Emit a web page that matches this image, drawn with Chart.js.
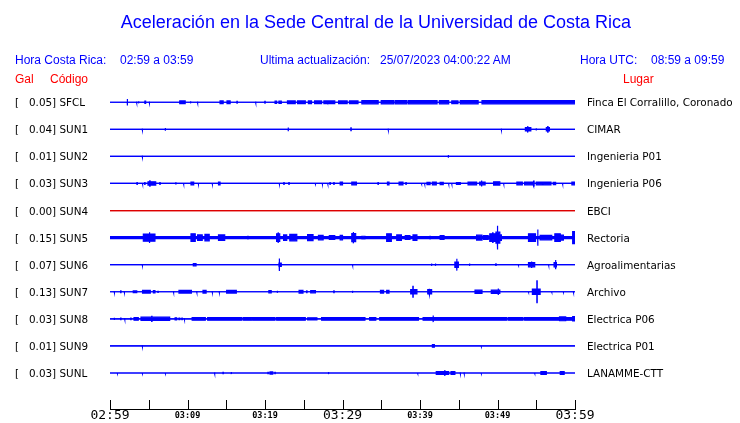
<!DOCTYPE html>
<html>
<head>
<meta charset="utf-8">
<script src="https://cdn.jsdelivr.net/npm/chart.js@4.4.1/dist/chart.umd.min.js"></script>
<style>
  body { margin: 0; background: #fff; }
  #wrap { position: relative; width: 740px; height: 423px; overflow: hidden; font-family: "Liberation Sans", Arial, sans-serif; }
  #c { position: absolute; left: 0; top: 0; }
  .t { position: absolute; white-space: pre; line-height: 14px; }
  .blue { color: #0000ff; font-size: 12px; top: 53px; }
  .red { color: #ff0000; font-size: 12px; top: 72px; }
  .sta { font-family: "DejaVu Sans", sans-serif; font-size: 10.4px; color: #000; line-height: 13px; }
</style>
</head>
<body>
<div id="wrap">
  <canvas id="c" width="740" height="423"></canvas>
  <div class="t" style="left:0;width:752px;text-align:center;top:11px;font-size:18px;line-height:22px;color:#0000ff;">Aceleración en la Sede Central de la Universidad de Costa Rica</div>
  <div class="t blue" style="left:15px;">Hora Costa Rica:</div>
  <div class="t blue" style="left:120px;">02:59 a 03:59</div>
  <div class="t blue" style="left:260px;">Ultima actualización:</div>
  <div class="t blue" style="left:380px;">25/07/2023 04:00:22 AM</div>
  <div class="t blue" style="left:580px;">Hora UTC:</div>
  <div class="t blue" style="left:651px;">08:59 a 09:59</div>
  <div class="t red" style="left:15px;">Gal</div>
  <div class="t red" style="left:50px;">Código</div>
  <div class="t red" style="left:623px;">Lugar</div>
</div>
<script>
/* ---------- DATOS ---------- */
const codes = ["SFCL", "SUN1", "SUN2", "SUN3", "SUN4", "SUN5", "SUN6", "SUN7", "SUN8", "SUN9", "SUNL"];
const gal = [0.05, 0.04, 0.01, 0.03, 0.00, 0.15, 0.07, 0.13, 0.03, 0.01, 0.03];
const places = ["Finca El Corralillo, Coronado", "CIMAR", "Ingenieria P01", "Ingenieria P06", "EBCI",
  "Rectoria", "Agroalimentarias", "Archivo", "Electrica P06", "Electrica P01", "LANAMME-CTT"];

// minutos desde 02:59
const tickMinutes = [0, 10, 20, 30, 40, 50, 60];
const tickTexts = ["02:59", "03:09", "03:19", "03:29", "03:39", "03:49", "03:59"];
const majorTicks = ["02:59", "03:29", "03:59"];

// trazas: [inicio, fin, semiamplitud] o [minuto, semiamplitud] para un pico
const SFCL = [[2.24, 0.12], [3.44, 0.03], [3.7, 0.04], [4.5, 4.6, 0.04], [5.08, 0.03], [9.0, 9.7, 0.05], [10.4, 0.04],
  [11.3, 0.03], [14.2, 14.6, 0.05], [15.1, 15.5, 0.05], [16.4, 0.03], [18.8, 0.03], [20.0, 0.03], [21.3, 21.5, 0.04],
  [21.8, 22.1, 0.04], [22.9, 23.9, 0.05], [24.2, 25.2, 0.05], [25.6, 26.0, 0.05], [26.4, 27.3, 0.05], [27.6, 28.0, 0.05],
  [28.1, 29.0, 0.05], [29.5, 30.0, 0.05], [30.1, 30.6, 0.05], [30.9, 32.0, 0.05], [32.5, 34.6, 0.06], [35.0, 36.6, 0.06],
  [36.8, 38.3, 0.06], [38.5, 42.2, 0.06], [42.5, 43.7, 0.06], [44.1, 44.9, 0.05], [45.2, 47.5, 0.06], [48.0, 60, 0.06]];
const SUN1 = [[4.17, 0.03], [7.14, 0.05], [23.0, 0.07], [31.1, 0.05], [35.9, 0.03], [50.5, 0.03], [53.6, 54.3, 0.06],
  [53.9, 0.12], [55.0, 0.04], [56.3, 56.7, 0.06], [56.5, 0.1]];
const SUN2 = [[4.17, 0.03], [43.66, 0.05]];
const SUN3 = [[3.5, 0.03], [4.2, 0.03], [4.5, 0.03], [4.9, 5.9, 0.06], [5.15, 0.1], [6.45, 0.03], [8.5, 0.02], [9.5, 0.03],
  [10.45, 10.8, 0.05], [11.4, 0.03], [13.2, 0.03], [14.0, 14.2, 0.05], [21.85, 0.03], [22.45, 0.03], [23.1, 0.03],
  [26.5, 0.02], [27.4, 0.03], [28.1, 0.03], [28.4, 0.03], [28.9, 0.03], [29.7, 30.0, 0.05], [31.2, 31.8, 0.05],
  [34.6, 0.03], [35.8, 36.0, 0.05], [37.3, 37.8, 0.05], [38.2, 0.03], [40.2, 0.02], [40.6, 0.03], [40.9, 41.3, 0.04],
  [41.6, 42.1, 0.05], [42.6, 43.0, 0.04], [43.7, 0.03], [44.1, 0.03], [44.7, 45.2, 0.03], [46.2, 47.3, 0.05],
  [47.7, 48.4, 0.05], [47.95, 0.11], [49.5, 50.3, 0.06], [50.8, 0.03], [52.5, 53.2, 0.05], [53.5, 54.6, 0.05],
  [54.7, 0.09], [55.0, 55.8, 0.05], [55.9, 56.9, 0.05], [57.2, 57.5, 0.04], [58.4, 0.03], [59.6, 60, 0.05]];
const SUN4 = [];
const SUN5 = [[0, 60, 0.04], [4.3, 5.8, 0.13], [5.1, 0.2], [10.45, 11.0, 0.14], [11.3, 11.9, 0.1], [12.25, 12.8, 0.12],
  [14.0, 14.8, 0.1], [17.8, 0.05], [21.5, 21.9, 0.14], [21.7, 0.2], [22.4, 22.8, 0.1], [23.2, 24.1, 0.12],
  [25.5, 26.2, 0.11], [26.9, 27.5, 0.08], [28.3, 29.0, 0.07], [29.7, 30.0, 0.08], [31.2, 31.7, 0.15], [31.4, 0.21],
  [32.5, 32.9, 0.05], [35.7, 36.3, 0.14], [37.0, 37.6, 0.1], [38.1, 38.7, 0.07], [39.1, 39.6, 0.1], [41.3, 0.05],
  [42.6, 43.1, 0.07], [47.3, 48.0, 0.09], [48.2, 48.8, 0.07], [49.0, 49.8, 0.14], [49.4, 0.18], [49.8, 50.3, 0.2],
  [50.0, 0.44], [50.3, 50.5, 0.1], [54.0, 54.9, 0.14], [55.2, 0.3], [55.5, 55.9, 0.08], [55.9, 57.0, 0.08],
  [57.4, 58.1, 0.14], [58.2, 58.5, 0.09], [59.7, 60, 0.22]];
const SUN6 = [[4.17, 0.03], [10.75, 11.1, 0.04], [21.8, 22.1, 0.06], [21.85, 0.23], [31.3, 0.03], [41.5, 0.04],
  [42.0, 0.04], [44.5, 44.95, 0.1], [44.75, 0.22], [46.4, 0.04], [49.8, 0.03], [52.7, 0.02], [54.0, 54.8, 0.08],
  [54.4, 0.12], [56.6, 0.03], [57.3, 57.6, 0.08], [57.5, 0.17]];
const SUN7 = [[0.56, 0.03], [1.4, 0.03], [1.85, 0.03], [3.0, 3.45, 0.03], [4.2, 5.2, 0.05], [5.6, 5.8, 0.04], [6.2, 0.02],
  [8.2, 0.03], [8.9, 10.5, 0.05], [11.2, 0.03], [12.0, 12.4, 0.05], [13.2, 0.03], [14.1, 0.03], [15.05, 16.3, 0.05],
  [20.5, 20.8, 0.04], [21.6, 0.04], [24.4, 24.9, 0.05], [25.4, 0.03], [25.9, 26.5, 0.04], [28.9, 0.03], [31.3, 0.04],
  [34.9, 35.3, 0.05], [35.7, 36.0, 0.05], [38.8, 39.6, 0.08], [39.1, 0.2], [41.0, 41.5, 0.08], [41.2, 0.11],
  [47.1, 48.0, 0.06], [49.2, 50.3, 0.06], [50.1, 0.12], [54.0, 0.02], [54.5, 55.5, 0.1], [55.1, 0.4], [57.0, 0.02],
  [58.5, 0.02], [59.8, 0.03]];
const SUN8 = [[0.56, 0.04], [1.4, 0.03], [1.9, 0.03], [2.7, 0.03], [3.1, 3.65, 0.05], [4.0, 7.7, 0.06], [5.4, 0.09],
  [8.4, 8.6, 0.04], [8.9, 9.0, 0.03], [9.3, 0.03], [9.6, 0.03], [10.6, 12.3, 0.05], [12.6, 17.0, 0.05], [17.2, 18.3, 0.05],
  [18.4, 21.3, 0.05], [21.5, 25.2, 0.05], [25.5, 26.7, 0.04], [27.3, 32.9, 0.05], [33.5, 34.3, 0.05], [34.8, 39.8, 0.05],
  [40.4, 48.0, 0.05], [41.7, 0.12], [48.0, 51.2, 0.05], [51.4, 53.3, 0.05], [53.5, 60, 0.05], [58.0, 58.8, 0.07],
  [59.7, 60, 0.08]];
const SUN9 = [[4.17, 0.03], [41.6, 41.85, 0.05], [47.9, 0.02]];
const SUNL = [[0.95, 0.02], [4.17, 0.02], [7.14, 0.02], [13.5, 0.03], [14.6, 0.02], [15.65, 0.04], [20.4, 0.02],
  [20.65, 21.0, 0.04], [21.3, 0.02], [28.2, 0.04], [39.7, 0.02], [42.1, 43.7, 0.05], [43.2, 0.11], [44.0, 44.5, 0.05],
  [45.2, 0.03], [45.7, 0.03], [47.9, 0.02], [54.8, 0.02], [55.6, 56.3, 0.05], [58.1, 58.6, 0.05]];

const traces = [SFCL, SUN1, SUN2, SUN3, SUN4, SUN5, SUN6, SUN7, SUN8, SUN9, SUNL];
const traceColors = codes.map(c => c === "SUN4" ? "#dd0000" : "#0000ff");

/* ---------- envolvente por tramo ---------- */
function envelope(bursts) {
  const segs = bursts.map(b => b.length === 2 ? [b[0] - 0.02, b[0] + 0.02, b[1]] : b);
  const cuts = new Set([0, 60]);
  segs.forEach(s => { cuts.add(Math.max(0, s[0])); cuts.add(Math.min(60, s[1])); });
  const xs = [...cuts].sort((a, b) => a - b);
  const out = [];
  for (let k = 0; k < xs.length - 1; k++) {
    const mid = (xs[k] + xs[k + 1]) / 2;
    let a = 0;
    segs.forEach(s => { if (mid >= s[0] && mid <= s[1]) a = Math.max(a, s[2]); });
    out.push([xs[k], xs[k + 1], a]);
  }
  return out;
}

const datasets = [];
traces.forEach((bursts, i) => {
  const base = -i;
  const env = envelope(bursts);
  const up = [], down = [];
  env.forEach(([x0, x1, a]) => {
    up.push({ x: x0, y: base + a }, { x: x1, y: base + a });
    down.push({ x: x0, y: base - a }, { x: x1, y: base - a });
  });
  const col = traceColors[i];
  datasets.push({ data: up, borderColor: col, backgroundColor: col, borderWidth: 1.2, fill: false });
  datasets.push({ data: down, borderColor: col, backgroundColor: col, borderWidth: 1.2, fill: "-1" });
});

/* ---------- marcas del eje ---------- */
const tickMarks = {
  id: "tickMarks",
  afterDraw(chart) {
    const { ctx, chartArea, scales: { x } } = chart;
    ctx.save();
    ctx.strokeStyle = "#000";
    ctx.lineWidth = 1;
    x.ticks.forEach(t => {
      const px = Math.round(x.getPixelForValue(t.value)) + 0.5;
      ctx.beginPath();
      ctx.moveTo(px, chartArea.bottom);
      ctx.lineTo(px, chartArea.bottom - 9);
      ctx.stroke();
    });
    ctx.restore();
  }
};

const chart = new Chart(document.getElementById("c"), {
  type: "line",
  data: { datasets },
  options: {
    responsive: false,
    animation: false,
    events: [],
    layout: { padding: { left: 110, right: 165, top: 86, bottom: 0 } },
    plugins: { legend: { display: false }, tooltip: { enabled: false } },
    elements: { point: { radius: 0 }, line: { tension: 0 } },
    scales: {
      x: {
        type: "linear", min: 0, max: 60,
        grid: { display: false, drawTicks: false },
        border: { display: true, color: "#000", width: 1 },
        ticks: {
          stepSize: 5, autoSkip: false, maxRotation: 0, padding: 0, color: "#000",
          callback: v => {
            const k = tickMinutes.indexOf(v);
            return k < 0 ? "" : tickTexts[k];
          },
          font: c => {
            const k = tickMinutes.indexOf(c.tick && c.tick.value);
            const big = k >= 0 && majorTicks.includes(tickTexts[k]);
            return big ? { family: "DejaVu Sans Mono", size: 13, lineHeight: 1 }
                       : { family: "DejaVu Sans Mono", size: 8.5, weight: "bold", lineHeight: 14 / 8.5 };
          }
        }
      },
      y: { type: "linear", min: -11.33, max: 0.6, display: false }
    }
  },
  plugins: [tickMarks]
});

/* ---------- etiquetas de estaciones ---------- */
const wrap = document.getElementById("wrap");
codes.forEach((code, i) => {
  const y = chart.scales.y.getPixelForValue(-i);
  const l = document.createElement("div");
  l.className = "t sta";
  l.style.left = "15px";
  l.style.top = (y - 6) + "px";
  l.textContent = "[   " + gal[i].toFixed(2) + "] " + code;
  wrap.appendChild(l);
  const r = document.createElement("div");
  r.className = "t sta";
  r.style.left = "587px";
  r.style.top = (y - 6) + "px";
  r.textContent = places[i];
  wrap.appendChild(r);
});
</script>
</body>
</html>
